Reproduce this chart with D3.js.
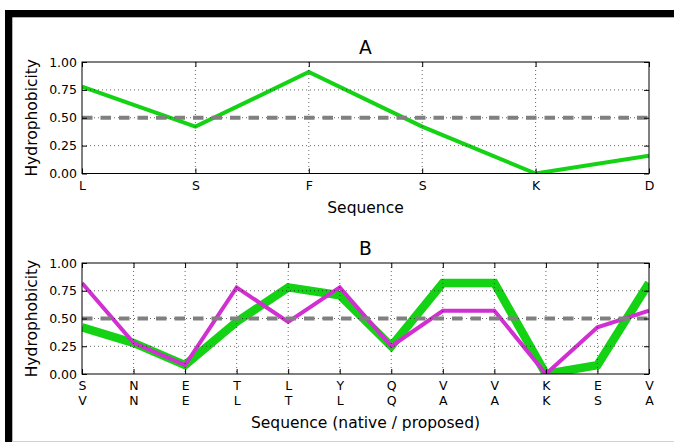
<html>
<script src='https://d3js.org/d3.v7.min.js'></script>
<style>
  body {margin:0; background:#fff;}
  text {font-family:'DejaVu Sans', sans-serif; fill:#000;}
  .tick line {stroke:#000;}
</style>
<body onload='init()'>
<svg width=674 height=442></svg>
<script>
// panel A: single sequence
var seqA = ["L","S","F","S","K","D"];
var hydA = [0.78, 0.42, 0.91, 0.42, 0.00, 0.16];

// panel B: native vs proposed
var nativeB   = ["S","N","E","T","L","Y","Q","V","V","K","E","V"];
var proposedB = ["V","N","E","L","T","L","Q","A","A","K","S","A"];
var hydNative   = [0.42, 0.28, 0.08, 0.47, 0.78, 0.71, 0.25, 0.82, 0.82, 0.00, 0.08, 0.82];
var hydProposed = [0.82, 0.28, 0.08, 0.78, 0.47, 0.78, 0.25, 0.57, 0.57, 0.00, 0.42, 0.57];

var yTicks = [0, 0.25, 0.5, 0.75, 1.0];
var threshold = 0.5;

function init() {
var svg = d3.select("svg");

// outer frame
svg.append("rect").attr("x",5).attr("y",10).attr("width",669).attr("height",7.3).attr("fill","#000");
svg.append("rect").attr("x",5).attr("y",10).attr("width",7.3).attr("height",432).attr("fill","#000");
svg.append("line").attr("x1",12).attr("x2",674).attr("y1",441.5).attr("y2",441.5)
  .attr("stroke","#d0d0d0").attr("stroke-width",1);

function panel(id, top, bottom, n, title, xlabel, xlabelY, series, labelRows) {
  var left = 82, right = 649;
  var x = d3.scalePoint().domain(d3.range(n)).range([left, right]);
  var y = d3.scaleLinear().domain([0, 1]).range([bottom, top]);
  var g = svg.append("g");

  g.append("clipPath").attr("id", id).append("rect")
    .attr("x", left).attr("y", top).attr("width", right-left).attr("height", bottom-top);

  // data lines
  series.forEach(function(s) {
    g.append("path")
      .attr("clip-path", "url(#"+id+")")
      .attr("d", d3.line().x(function(d,i){return x(i);}).y(function(d){return y(d);})(s.values))
      .attr("fill","none").attr("stroke", s.color).attr("stroke-width", s.width)
      .attr("stroke-linejoin","miter");
  });

  // dotted grid
  g.selectAll(".hg").data(yTicks.slice(1,-1)).enter().append("line")
    .attr("x1",left).attr("x2",right).attr("y1",function(d){return y(d);}).attr("y2",function(d){return y(d);})
    .attr("stroke","#000").attr("stroke-width",0.6).attr("stroke-dasharray","1,3");
  g.selectAll(".vg").data(d3.range(1,n-1)).enter().append("line")
    .attr("y1",top).attr("y2",bottom).attr("x1",function(d){return x(d);}).attr("x2",function(d){return x(d);})
    .attr("stroke","#000").attr("stroke-width",0.6).attr("stroke-dasharray","1,3");

  // threshold
  g.append("line").attr("x1",left).attr("x2",right).attr("y1",y(threshold)).attr("y2",y(threshold))
    .attr("stroke","#808080").attr("stroke-width",4).attr("stroke-dasharray","10.5,8");

  // axes, ticks inward
  g.append("g").attr("transform","translate("+left+",0)")
    .call(d3.axisLeft(y).tickValues(yTicks).tickFormat(d3.format(".2f")).tickSize(-5).tickPadding(5))
    .call(function(a){a.select(".domain").remove(); a.selectAll("text").attr("font-size",12.5);});
  g.append("g").attr("transform","translate("+right+",0)")
    .call(d3.axisRight(y).tickValues(yTicks).tickFormat("").tickSize(-5))
    .call(function(a){a.select(".domain").remove();});
  g.append("g").attr("transform","translate(0,"+top+")")
    .call(d3.axisTop(x).tickFormat("").tickSize(-5))
    .call(function(a){a.select(".domain").remove();});
  var xb = g.append("g").attr("transform","translate(0,"+bottom+")")
    .call(d3.axisBottom(x).tickFormat(function(i){return labelRows[0][i];}).tickSize(-5).tickPadding(7.5))
    .call(function(a){a.select(".domain").remove(); a.selectAll("text").attr("font-size",12.5);});
  if (labelRows.length > 1) {
    xb.selectAll(".tick").append("text")
      .attr("y", 7.5).attr("dy","1.87em").attr("font-size",12.5).attr("text-anchor","middle")
      .text(function(i){return labelRows[1][i];});
  }

  g.append("rect").attr("x",left).attr("y",top).attr("width",right-left).attr("height",bottom-top)
    .attr("fill","none").attr("stroke","#000").attr("stroke-width",1);

  g.append("text").attr("x",(left+right)/2).attr("y",top-8).attr("text-anchor","middle")
    .attr("font-size",18.7).text(title);
  g.append("text").attr("x",(left+right)/2).attr("y",xlabelY).attr("text-anchor","middle")
    .attr("font-size",15.5).text(xlabel);
  g.append("text").attr("transform","translate(37,"+((top+bottom)/2)+") rotate(-90)")
    .attr("text-anchor","middle").attr("font-size",15.5).text("Hydrophobicity");
}

panel("clipA", 62, 173.5, seqA.length, "A", "Sequence", 213,
  [{values: hydA, color: "#14d214", width: 4}], [seqA]);
panel("clipB", 263, 374, nativeB.length, "B", "Sequence (native / proposed)", 428,
  [{values: hydNative, color: "#14d214", width: 8.5},
   {values: hydProposed, color: "#d12fd1", width: 4}], [nativeB, proposedB]);
}
</script>
</body>
</html>
